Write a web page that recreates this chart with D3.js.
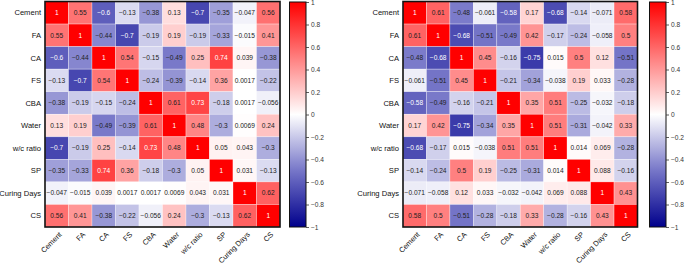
<!DOCTYPE html>
<html>
<head>
<meta charset="utf-8">
<script src="https://cdn.jsdelivr.net/npm/d3@7"></script>
<style>
  body { margin: 0; background: #fff; }
  text { font-family: "Liberation Sans", Arial, sans-serif; }
</style>
</head>
<body>
<div id="chart"></div>
<script>
const vars = ["Cement", "FA", "CA", "FS", "CBA", "Water", "w/c ratio", "SP", "Curing Days", "CS"]

const leftCorr = [
  [1, 0.55, -0.6, -0.13, -0.38, 0.13, -0.7, -0.35, -0.047, 0.56],
  [0.55, 1, -0.44, -0.7, -0.19, 0.19, -0.19, -0.33, -0.015, 0.41],
  [-0.6, -0.44, 1, 0.54, -0.15, -0.49, 0.25, 0.74, 0.039, -0.38],
  [-0.13, -0.7, 0.54, 1, -0.24, -0.39, -0.14, 0.36, 0.0017, -0.22],
  [-0.38, -0.19, -0.15, -0.24, 1, 0.61, 0.73, -0.18, 0.0017, -0.056],
  [0.13, 0.19, -0.49, -0.39, 0.61, 1, 0.48, -0.3, 0.0069, 0.24],
  [-0.7, -0.19, 0.25, -0.14, 0.73, 0.48, 1, 0.05, 0.043, -0.3],
  [-0.35, -0.33, 0.74, 0.36, -0.18, -0.3, 0.05, 1, 0.031, -0.13],
  [-0.047, -0.015, 0.039, 0.0017, 0.0017, 0.0069, 0.043, 0.031, 1, 0.62],
  [0.56, 0.41, -0.38, -0.22, -0.056, 0.24, -0.3, -0.13, 0.62, 1]
]

const rightCorr = [
  [1, 0.61, -0.48, -0.061, -0.58, 0.17, -0.68, -0.14, -0.071, 0.58],
  [0.61, 1, -0.68, -0.51, -0.49, 0.42, -0.17, -0.24, -0.058, 0.5],
  [-0.48, -0.68, 1, 0.45, -0.16, -0.75, 0.015, 0.5, 0.12, -0.51],
  [-0.061, -0.51, 0.45, 1, -0.21, -0.34, -0.038, 0.19, 0.033, -0.28],
  [-0.58, -0.49, -0.16, -0.21, 1, 0.35, 0.51, -0.25, -0.032, -0.18],
  [0.17, 0.42, -0.75, -0.34, 0.35, 1, 0.51, -0.31, -0.042, 0.33],
  [-0.68, -0.17, 0.015, -0.038, 0.51, 0.51, 1, 0.014, 0.069, -0.28],
  [-0.14, -0.24, 0.5, 0.19, -0.25, -0.31, 0.014, 1, 0.088, -0.16],
  [-0.071, -0.058, 0.12, 0.033, -0.032, -0.042, 0.069, 0.088, 1, 0.43],
  [0.58, 0.5, -0.51, -0.28, -0.18, 0.33, -0.28, -0.16, 0.43, 1]
]

const barTicks = [1, 0.8, 0.6, 0.4, 0.2, 0, -0.2, -0.4, -0.6, -0.8, -1]

const width = 685
const height = 266

const color = d3.scaleLinear()
  .domain([-1, -0.5, 0, 1])
  .range(["#00008c", "#7676c8", "#ffffff", "#ff0000"])

const svg = d3.select("#chart").append("svg")
  .attr("width", width)
  .attr("height", height)

function fmt(v) {
  return String(v).replace("-", "\u2212")
}

function drawHeatmap(matrix, left, right, barX) {
  const top = 1.5, bottom = 227
  const g = svg.append("g")

  const x = d3.scaleBand().domain(vars).range([left, right])
  const y = d3.scaleBand().domain(vars).range([top, bottom])

  const cells = []
  matrix.forEach((row, i) => row.forEach((v, j) => cells.push({r: vars[i], c: vars[j], v: v})))

  g.selectAll("rect.cell")
    .data(cells)
    .join("rect")
    .attr("class", "cell")
    .attr("x", d => x(d.c))
    .attr("y", d => y(d.r))
    .attr("width", x.bandwidth())
    .attr("height", y.bandwidth())
    .attr("fill", d => color(d.v))
    .attr("stroke", "#fff")
    .attr("stroke-opacity", 0.5)
    .attr("stroke-width", 0.6)

  g.selectAll("text.val")
    .data(cells)
    .join("text")
    .attr("class", "val")
    .attr("x", d => x(d.c) + x.bandwidth() / 2)
    .attr("y", d => y(d.r) + y.bandwidth() / 2)
    .attr("dy", "0.35em")
    .attr("text-anchor", "middle")
    .attr("font-size", 6.6)
    .attr("fill", d => (d.v >= 0.7 || d.v <= -0.55) ? "#fff" : "#222")
    .text(d => fmt(d.v))

  // frame
  g.append("rect")
    .attr("x", left).attr("y", top)
    .attr("width", right - left).attr("height", bottom - top)
    .attr("fill", "none")
    .attr("stroke", "#111")
    .attr("stroke-width", 1.6)

  // row labels
  g.selectAll("text.ylab")
    .data(vars)
    .join("text")
    .attr("class", "ylab")
    .attr("x", left - 4)
    .attr("y", d => y(d) + y.bandwidth() / 2)
    .attr("dy", "0.35em")
    .attr("text-anchor", "end")
    .attr("font-size", 7.6)
    .attr("fill", "#111")
    .text(d => d)

  // column labels, rotated 45 degrees
  g.selectAll("text.xlab")
    .data(vars)
    .join("text")
    .attr("class", "xlab")
    .attr("transform", d => `translate(${x(d) + x.bandwidth() / 2 + 5.5},${bottom + 8}) rotate(-45)`)
    .attr("text-anchor", "end")
    .attr("font-size", 7.4)
    .attr("fill", "#111")
    .text(d => d)

  // colour bar
  const barW = 16.5
  const cy = d3.scaleLinear().domain([-1, 1]).range([bottom, top + 0.5])
  const gradId = "grad" + Math.round(barX)
  const grad = svg.append("defs").append("linearGradient")
    .attr("id", gradId)
    .attr("x1", 0).attr("y1", 1).attr("x2", 0).attr("y2", 0)
  d3.range(-1, 1.0001, 0.1).forEach(t => {
    grad.append("stop")
      .attr("offset", (t + 1) / 2)
      .attr("stop-color", color(t))
  })
  g.append("rect")
    .attr("x", barX).attr("y", cy(1))
    .attr("width", barW).attr("height", cy(-1) - cy(1))
    .attr("fill", `url(#${gradId})`)
    .attr("stroke", "#111")
    .attr("stroke-width", 1)

  const axis = g.append("g")
    .attr("transform", `translate(${barX + barW},0)`)
    .call(d3.axisRight(cy).tickValues(barTicks).tickSize(3).tickFormat(d3.format("~g")))
  axis.select(".domain").remove()
  axis.selectAll(".tick line").attr("stroke", "#333").attr("stroke-width", 0.8)
  axis.selectAll(".tick text")
    .attr("font-size", 6.6)
    .attr("font-family", "Liberation Sans, Arial, sans-serif")
    .attr("fill", "#333")
    .attr("x", 5)
}

drawHeatmap(leftCorr, 45, 280, 289.5)
drawHeatmap(rightCorr, 403, 637.5, 649.5)
</script>
</body>
</html>
